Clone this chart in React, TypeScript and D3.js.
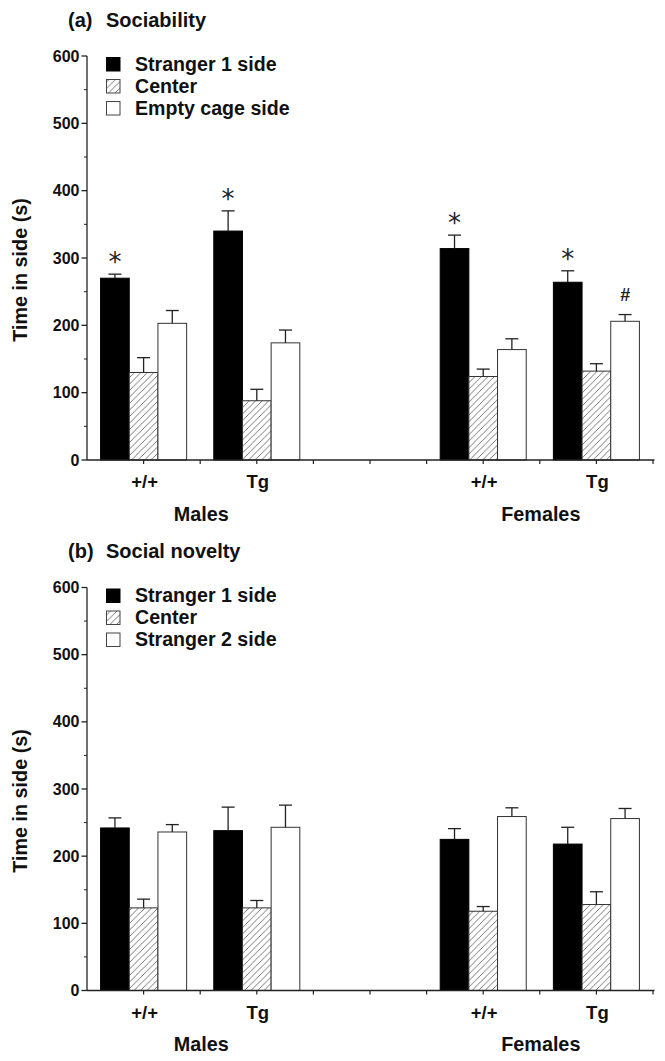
import React from "react";
import * as d3 from "d3";

// ---------- data ----------
const genotypes = ["+/+", "Tg", "+/+", "Tg"];
const genotypePositions = [1, 3, 7, 9];
const sexes = ["Males", "Females"];
const sexPositions = [2, 8];
const yTicks = [0, 100, 200, 300, 400, 500, 600];
const yMinorTicks = [50, 150, 250, 350, 450, 550];

const sociabilitySeries = ["Stranger 1 side", "Center", "Empty cage side"];
const sociabilityStranger1 = [270, 340, 314, 264];
const sociabilityStranger1Err = [6, 30, 20, 17];
const sociabilityCenter = [130, 88, 124, 132];
const sociabilityCenterErr = [22, 17, 11, 11];
const sociabilityEmpty = [203, 174, 164, 206];
const sociabilityEmptyErr = [19, 19, 16, 10];
// significance marks: [group index, series index, symbol]
const sociabilityMarks: [number, number, string][] = [
  [0, 0, "*"],
  [1, 0, "*"],
  [2, 0, "*"],
  [3, 0, "*"],
  [3, 2, "#"],
];

const noveltySeries = ["Stranger 1 side", "Center", "Stranger 2 side"];
const noveltyStranger1 = [242, 238, 225, 218];
const noveltyStranger1Err = [15, 35, 16, 25];
const noveltyCenter = [123, 123, 118, 128];
const noveltyCenterErr = [13, 11, 7, 19];
const noveltyStranger2 = [236, 243, 259, 256];
const noveltyStranger2Err = [11, 33, 13, 15];
const noveltyMarks: [number, number, string][] = [];

const FONT = "'Liberation Sans', Arial, Helvetica, sans-serif";

type PanelProps = {
  letter: string;
  title: string;
  series: string[];
  values: number[][];
  errors: number[][];
  marks: [number, number, string][];
  top: number; // pixel of y=600
  bottom: number; // pixel of y=0
};

const xScale = d3.scaleLinear().domain([0, 10]).range([87, 653]);
const groupHalf = 0.76;
const fills = ["#000", "url(#hatch)", "#fff"];
const strokes = ["#000", "#333", "#333"];

function Panel({ letter, title, series, values, errors, marks, top, bottom }: PanelProps) {
  const y = d3.scaleLinear().domain([0, 600]).range([bottom, top]);
  const axisX = xScale(0);
  const inner = d3
    .scaleBand<number>()
    .domain([0, 1, 2])
    .range([0, xScale(groupHalf * 2) - xScale(0)])
    .padding(0);
  const bw = inner.bandwidth();
  const groupLeft = (g: number) => xScale(genotypePositions[g] - groupHalf);
  const xTicks = d3.range(0, 11);
  return (
    <g>
      <text x={68} y={top - 29.3} fontFamily={FONT} fontWeight="bold" fontSize={20} fill="#111">
        {letter}
      </text>
      <text x={106} y={top - 29.3} fontFamily={FONT} fontWeight="bold" fontSize={20} fill="#111">
        {title}
      </text>
      {/* y axis title */}
      <text
        transform={`translate(26.5,${(top + bottom) / 2 + 12}) rotate(-90)`}
        textAnchor="middle"
        fontFamily={FONT}
        fontWeight="bold"
        fontSize={19.8}
        fill="#111"
      >
        Time in side (s)
      </text>
      {/* bars */}
      {values.map((vals, s) =>
        vals.map((v, g) => {
          const x0 = groupLeft(g) + (inner(s) as number);
          return (
            <rect
              key={`b${s}-${g}`}
              x={x0}
              y={y(v)}
              width={bw}
              height={y(0) - y(v)}
              fill={fills[s]}
              stroke={strokes[s]}
              strokeWidth={1}
            />
          );
        })
      )}
      {/* error bars */}
      {values.map((vals, s) =>
        vals.map((v, g) => {
          const cx = groupLeft(g) + (inner(s) as number) + bw / 2;
          const e = errors[s][g];
          return (
            <g key={`e${s}-${g}`} stroke="#222" strokeWidth={1.3}>
              <line x1={cx} x2={cx} y1={y(v)} y2={y(v + e)} />
              <line x1={cx - 6.5} x2={cx + 6.5} y1={y(v + e)} y2={y(v + e)} />
            </g>
          );
        })
      )}
      {/* significance marks */}
      {marks.map(([g, s, sym], i) => {
        const cx = groupLeft(g) + (inner(s) as number) + bw / 2;
        const cy = y(values[s][g] + errors[s][g]) - 20;
        return sym === "*" ? (
          <text
            key={`m${i}`}
            x={cx}
            y={cy + 17}
            textAnchor="middle"
            fontFamily="'DejaVu Sans', sans-serif"
            fontSize={26}
            fill="#222"
          >
            *
          </text>
        ) : (
          <text
            key={`m${i}`}
            x={cx}
            y={cy + 6.5}
            textAnchor="middle"
            fontFamily={FONT}
            fontWeight="bold"
            fontStyle="italic"
            fontSize={18}
            fill="#222"
          >
            {sym}
          </text>
        );
      })}
      {/* y axis */}
      <line x1={axisX} x2={axisX} y1={y(600)} y2={y(0)} stroke="#222" strokeWidth={1.3} />
      {yTicks.map((t) => (
        <g key={`yt${t}`}>
          <line x1={axisX - 5.5} x2={axisX} y1={y(t)} y2={y(t)} stroke="#222" strokeWidth={1.3} />
          <text
            x={axisX - 7.5}
            y={y(t) + 5.6}
            textAnchor="end"
            fontFamily={FONT}
            fontWeight="bold"
            fontSize={16}
            fill="#111"
          >
            {t}
          </text>
        </g>
      ))}
      {yMinorTicks.map((t) => (
        <line key={`ym${t}`} x1={axisX - 3} x2={axisX} y1={y(t)} y2={y(t)} stroke="#222" strokeWidth={1} />
      ))}
      {/* x axis */}
      <line x1={axisX} x2={xScale(10) + 1.5} y1={y(0)} y2={y(0)} stroke="#222" strokeWidth={1.3} />
      {xTicks.slice(1).map((t) => (
        <line key={`xt${t}`} x1={xScale(t)} x2={xScale(t)} y1={y(0)} y2={y(0) + 4} stroke="#222" strokeWidth={1.2} />
      ))}
      {genotypes.map((g, i) => (
        <text
          key={`gl${i}`}
          x={xScale(genotypePositions[i]) + 1}
          y={y(0) + 28.3}
          textAnchor="middle"
          fontFamily={FONT}
          fontWeight="bold"
          fontSize={18.5}
          fill="#111"
        >
          {g}
        </text>
      ))}
      {sexes.map((s, i) => (
        <text
          key={`sl${i}`}
          x={xScale(sexPositions[i]) + 1}
          y={y(0) + 60.7}
          textAnchor="middle"
          fontFamily={FONT}
          fontWeight="bold"
          fontSize={19.8}
          fill="#111"
        >
          {s}
        </text>
      ))}
      {/* legend */}
      {series.map((name, i) => (
        <g key={`lg${i}`}>
          <rect
            x={106.5}
            y={top + 1.5 + i * 22}
            width={13.5}
            height={13.5}
            fill={fills[i]}
            stroke={i === 0 ? "#000" : "#444"}
            strokeWidth={1}
          />
          <text
            x={135}
            y={top + 14.8 + i * 22}
            fontFamily={FONT}
            fontWeight="bold"
            fontSize={19.6}
            fill="#111"
          >
            {name}
          </text>
        </g>
      ))}
    </g>
  );
}

export default function App() {
  return (
    <svg
      width={665}
      height={1061}
      style={{ position: "absolute", left: 0, top: 0, background: "#fff" }}
    >
      <defs>
        <pattern id="hatch" patternUnits="userSpaceOnUse" width={6.5} height={6.5}>
          <rect width={6.5} height={6.5} fill="#fff" />
          <path d="M-1,1 L1,-1 M0,6.5 L6.5,0 M5.5,7.5 L7.5,5.5" stroke="#555" strokeWidth={0.8} />
        </pattern>
      </defs>
      <rect width={665} height={1061} fill="#fff" />
      <Panel
        letter="(a)"
        title="Sociability"
        series={sociabilitySeries}
        values={[sociabilityStranger1, sociabilityCenter, sociabilityEmpty]}
        errors={[sociabilityStranger1Err, sociabilityCenterErr, sociabilityEmptyErr]}
        marks={sociabilityMarks}
        top={56}
        bottom={460}
      />
      <Panel
        letter="(b)"
        title="Social novelty"
        series={noveltySeries}
        values={[noveltyStranger1, noveltyCenter, noveltyStranger2]}
        errors={[noveltyStranger1Err, noveltyCenterErr, noveltyStranger2Err]}
        marks={noveltyMarks}
        top={587.5}
        bottom={990.5}
      />
    </svg>
  );
}
